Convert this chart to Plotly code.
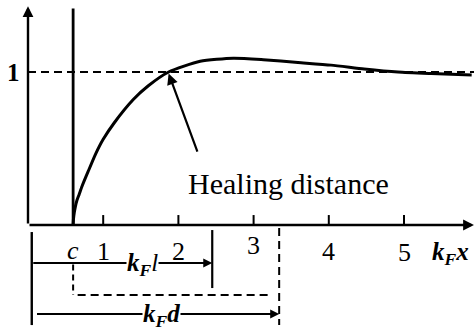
import plotly.graph_objects as go

# Normalised density profile near the wall, plotted against k_F x
kx = [0.600, 0.605, 0.615, 0.630, 0.650, 0.680, 0.720, 0.800, 0.900, 1.000,
      1.150, 1.400, 1.600, 1.870, 2.290, 2.730, 3.130, 3.590, 4.030, 4.470,
      4.920, 5.360, 5.900]
density = [0.00, 0.04, 0.08, 0.12, 0.16, 0.20, 0.255, 0.35, 0.465, 0.56,
           0.67, 0.82, 0.91, 1.00, 1.07, 1.09, 1.08, 1.062, 1.045, 1.02,
           1.00, 0.99, 0.98]

tick_values = [1, 2, 3, 4, 5]
tick_labels = ["1", "2", "3", "4", "5"]
c_pos = 0.60          # hard-wall position c
kf_l = 2.45           # k_F l
kf_d = 3.34           # k_F d
healing_point = (1.87, 1.0)

FONT = "Liberation Serif"
X0, XS = 28.0, 75.2     # pixel origin / pixels per unit (x)
Y0, YS = 225.0, 153.0   # pixel origin / pixels per unit (y)
W, H = 474, 333

fig = go.Figure()
fig.add_trace(go.Scatter(x=kx, y=density, mode="lines",
                         line=dict(color="black", width=3, shape="spline", smoothing=0.6),
                         hoverinfo="skip", showlegend=False))

shapes = []
annotations = []


def line(x0, y0, x1, y1, width=2.2, dash=None):
    shapes.append(dict(type="line", xref="x", yref="y", x0=x0, y0=y0, x1=x1, y1=y1,
                       line=dict(color="black", width=width, dash=dash)))


def arrow(x_from, y_from, x_to, y_to, width=2.0, head=2, size=1.0):
    annotations.append(dict(x=x_to, y=y_to, ax=x_from, ay=y_from, xref="x", yref="y",
                            axref="x", ayref="y", text="", showarrow=True,
                            arrowhead=head, arrowsize=size, arrowwidth=width,
                            arrowcolor="black"))


def label(x, y, text, size=26, bg=None, xanchor="center"):
    annotations.append(dict(x=x, y=y, xref="x", yref="y", text=text, showarrow=False,
                            xanchor=xanchor, yanchor="middle",
                            bgcolor=bg, borderpad=0,
                            font=dict(family=FONT, size=size, color="black")))


KF = "<b><i>k</i></b><sub><b><i>F</i></b></sub>"

# axes with arrowheads
arrow(0, 0, 0, 1.43, width=2.4, head=2, size=0.9)
arrow(0, 0, 5.93, 0, width=2.4, head=2, size=0.9)

# tick marks and numbers
for t in tick_values:
    line(t, 0, t, 0.065, width=2.0)
lab_y = [-0.175, -0.175, -0.135, -0.17, -0.18]
for t, s, yy in zip(tick_values, tick_labels, lab_y):
    label(t, yy, s)
label(c_pos, -0.165, "<i>c</i>")
label(5.62, -0.185, KF + "<b><i>x</i></b>", size=25)
label(-0.19, 1.0, "<b>1</b>", size=25)

# wall at c and asymptote at 1
line(c_pos, 0, c_pos, 1.415, width=2.8)
line(0, 1.0, 5.95, 1.0, width=2.0, dash="8px,5px")

# healing distance annotation
annotations.append(dict(x=healing_point[0], y=healing_point[1] - 0.01,
                        ax=2.26, ay=0.47, xref="x", yref="y", axref="x", ayref="y",
                        text="", showarrow=True, arrowhead=2, arrowsize=1.0,
                        arrowwidth=2.2, arrowcolor="black"))
label(3.47, 0.27, "Healing distance", size=30)

# length construction beneath the axis
y_l, y_box, y_d = -0.248, -0.458, -0.582
line(0.05, -0.046, 0.05, -0.654, width=2.4)
arrow(0.05, y_l, kf_l, y_l, width=2.0, head=2, size=0.9)
label(1.52, y_l - 0.012, KF + "<i>l</i>", size=25, bg="white")
line(kf_l, -0.033, kf_l, -0.412, width=2.2)
line(c_pos, y_l - 0.01, c_pos, y_box, width=2.0, dash="6px,4px")
line(c_pos + 0.06, y_box, kf_d - 0.1, y_box, width=2.0, dash="8px,5px")
line(kf_d, -0.02, kf_d, -0.654, width=2.0, dash="8px,5px")
arrow(0.1, y_d, kf_d, y_d, width=2.0, head=2, size=0.9)
label(1.77, y_d - 0.012, KF + "<b><i>d</i></b>", size=25, bg="white")

fig.update_layout(
    width=W, height=H, margin=dict(l=0, r=0, t=0, b=0),
    paper_bgcolor="white", plot_bgcolor="white",
    xaxis=dict(range=[-X0 / XS, (W - X0) / XS], visible=False, fixedrange=True),
    yaxis=dict(range=[(Y0 - H) / YS, Y0 / YS], visible=False, fixedrange=True),
    shapes=shapes, annotations=annotations,
)

fig.write_html("out.html")
